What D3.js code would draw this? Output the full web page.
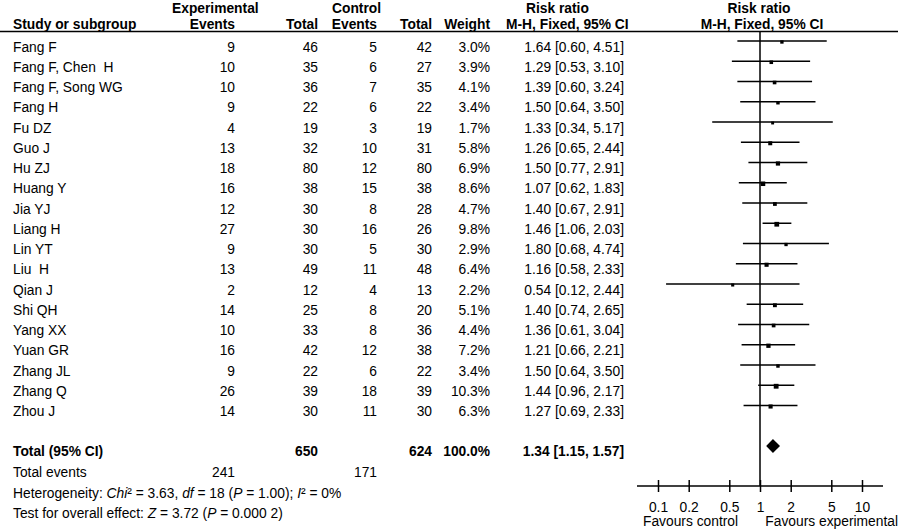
<!DOCTYPE html>
<html>
<head>
<meta charset="utf-8">
<script src="https://cdn.jsdelivr.net/npm/d3@7"></script>
<style>
  html, body { margin: 0; padding: 0; background: #fff; }
  svg { display: block; font-family: Arial, "Liberation Sans", sans-serif; }
  text { white-space: pre; fill: #000; }
</style>
</head>
<body>
<svg id="chart" width="900" height="531"></svg>
<script>
// ---------------- data ----------------
const studies = ["Fang F", "Fang F, Chen  H", "Fang F, Song WG", "Fang H", "Fu DZ", "Guo J", "Hu ZJ",
  "Huang Y", "Jia YJ", "Liang H", "Lin YT", "Liu  H", "Qian J", "Shi QH", "Yang XX", "Yuan GR",
  "Zhang JL", "Zhang Q", "Zhou J"];
const expEvents  = [9, 10, 10, 9, 4, 13, 18, 16, 12, 27, 9, 13, 2, 14, 10, 16, 9, 26, 14];
const expTotal   = [46, 35, 36, 22, 19, 32, 80, 38, 30, 30, 30, 49, 12, 25, 33, 42, 22, 39, 30];
const ctrlEvents = [5, 6, 7, 6, 3, 10, 12, 15, 8, 16, 5, 11, 4, 8, 8, 12, 6, 18, 11];
const ctrlTotal  = [42, 27, 35, 22, 19, 31, 80, 38, 28, 26, 30, 48, 13, 20, 36, 38, 22, 39, 30];
const weights    = [3.0, 3.9, 4.1, 3.4, 1.7, 5.8, 6.9, 8.6, 4.7, 9.8, 2.9, 6.4, 2.2, 5.1, 4.4, 7.2, 3.4, 10.3, 6.3];
const rr         = [1.64, 1.29, 1.39, 1.50, 1.33, 1.26, 1.50, 1.07, 1.40, 1.46, 1.80, 1.16, 0.54, 1.40, 1.36, 1.21, 1.50, 1.44, 1.27];
const ciLow      = [0.60, 0.53, 0.60, 0.64, 0.34, 0.65, 0.77, 0.62, 0.67, 1.06, 0.68, 0.58, 0.12, 0.74, 0.61, 0.66, 0.64, 0.96, 0.69];
const ciHigh     = [4.51, 3.10, 3.24, 3.50, 5.17, 2.44, 2.91, 1.83, 2.91, 2.03, 4.74, 2.33, 2.44, 2.65, 3.04, 2.21, 3.50, 2.17, 2.33];
const totalRow   = { expTotal: 650, ctrlTotal: 624, weight: "100.0%", rr: 1.34, lo: 1.15, hi: 1.57 };
const totalEvents = [241, 171];
const tickValues = [0.1, 0.2, 0.5, 1, 2, 5, 10];
const tickLabels = ["0.1", "0.2", "0.5", "1", "2", "5", "10"];

// ---------------- layout ----------------
const FS = 13.8;
const svg = d3.select("#chart");
const x = d3.scaleLog().domain([0.1, 10]).range([658, 862]);
const rowY = d3.scaleLinear().domain([0, studies.length - 1]).range([41, 405.5]); // CI line y
const textOff = 10.5;
const axisY = 486, headerLineY = 31.5;
const fmt2 = d3.format(".2f");
const colRight = { expE: 235, expT: 318, ctrlE: 377, ctrlT: 432, w: 490, rr: 624 };

function txt(xp, yp, s, opts = {}) {
  const t = svg.append("text").attr("x", xp).attr("y", yp)
    .attr("font-size", opts.size || FS)
    .attr("text-anchor", opts.anchor || "start")
    .attr("font-weight", opts.bold ? "bold" : "normal")
    .text(s);
  return t;
}

// ---------------- header ----------------
txt(172, 13, "Experimental", { bold: true });
txt(332, 13, "Control", { bold: true });
txt(526, 13, "Risk ratio", { bold: true });
txt(759, 13, "Risk ratio", { bold: true, anchor: "middle" });
txt(13, 29, "Study or subgroup", { bold: true });
txt(colRight.expE, 29, "Events", { bold: true, anchor: "end" });
txt(colRight.expT, 29, "Total", { bold: true, anchor: "end" });
txt(colRight.ctrlE, 29, "Events", { bold: true, anchor: "end" });
txt(colRight.ctrlT, 29, "Total", { bold: true, anchor: "end" });
txt(colRight.w, 29, "Weight", { bold: true, anchor: "end" });
txt(506, 29, "M-H, Fixed, 95% CI", { bold: true });
txt(762, 29, "M-H, Fixed, 95% CI", { bold: true, anchor: "middle" });

svg.append("line").attr("x1", 0).attr("x2", 898).attr("y1", headerLineY).attr("y2", headerLineY)
  .attr("stroke", "#000").attr("stroke-width", 1.5);

// ---------------- study rows ----------------
const rows = svg.append("g").selectAll("g").data(studies).join("g");
rows.append("text").attr("x", 13).attr("y", (d, i) => rowY(i) + textOff).attr("font-size", FS).text(d => d);
const cols = [
  [expEvents, colRight.expE, d => d],
  [expTotal, colRight.expT, d => d],
  [ctrlEvents, colRight.ctrlE, d => d],
  [ctrlTotal, colRight.ctrlT, d => d],
  [weights, colRight.w, d => d3.format(".1f")(d) + "%"],
];
cols.forEach(([arr, xr, f]) => {
  svg.append("g").selectAll("text").data(arr).join("text")
    .attr("x", xr).attr("y", (d, i) => rowY(i) + textOff).attr("font-size", FS)
    .attr("text-anchor", "end").text(f);
});
svg.append("g").selectAll("text").data(rr).join("text")
  .attr("x", colRight.rr).attr("y", (d, i) => rowY(i) + textOff).attr("font-size", FS)
  .attr("text-anchor", "end")
  .text((d, i) => `${fmt2(d)} [${fmt2(ciLow[i])}, ${fmt2(ciHigh[i])}]`);

// ---------------- total row ----------------
const totY = 446;
const totBase = totY + 10;
txt(13, totBase, "Total (95% CI)", { bold: true });
txt(colRight.expT, totBase, String(totalRow.expTotal), { bold: true, anchor: "end" });
txt(colRight.ctrlT, totBase, String(totalRow.ctrlTotal), { bold: true, anchor: "end" });
txt(colRight.w, totBase, totalRow.weight, { bold: true, anchor: "end" });
txt(colRight.rr, totBase, `${fmt2(totalRow.rr)} [${fmt2(totalRow.lo)}, ${fmt2(totalRow.hi)}]`, { bold: true, anchor: "end" });

txt(13, 477, "Total events");
txt(colRight.expE, 477, String(totalEvents[0]), { anchor: "end" });
txt(colRight.ctrlE, 477, String(totalEvents[1]), { anchor: "end" });

const het = svg.append("text").attr("x", 13).attr("y", 498).attr("font-size", FS);
[["Heterogeneity: ", 0], ["Chi", 1], ["² = 3.63, ", 0], ["df", 1], [" = 18 (", 0], ["P", 1],
 [" = 1.00); ", 0], ["I", 1], ["² = 0%", 0]].forEach(([s, it]) => {
  het.append("tspan").attr("font-style", it ? "italic" : "normal").text(s);
});
const tst = svg.append("text").attr("x", 13).attr("y", 518).attr("font-size", FS);
[["Test for overall effect: ", 0], ["Z", 1], [" = 3.72 (", 0], ["P", 1], [" = 0.000 2)", 0]]
  .forEach(([s, it]) => {
    tst.append("tspan").attr("font-style", it ? "italic" : "normal").text(s);
  });

// ---------------- forest plot ----------------
const plot = svg.append("g");
plot.append("line").attr("x1", x(1)).attr("x2", x(1)).attr("y1", headerLineY).attr("y2", axisY)
  .attr("stroke", "#000").attr("stroke-width", 1.5);

plot.selectAll("line.ci").data(rr).join("line").attr("class", "ci")
  .attr("x1", (d, i) => x(ciLow[i])).attr("x2", (d, i) => x(ciHigh[i]))
  .attr("y1", (d, i) => rowY(i)).attr("y2", (d, i) => rowY(i))
  .attr("stroke", "#000").attr("stroke-width", 1.5);

const side = w => 1.6 + Math.sqrt(w) * 1.0;
plot.selectAll("rect.pt").data(rr).join("rect").attr("class", "pt")
  .attr("x", (d, i) => x(d) - side(weights[i]) / 2)
  .attr("y", (d, i) => rowY(i) + 1 - side(weights[i]) / 2)
  .attr("width", (d, i) => side(weights[i]))
  .attr("height", (d, i) => side(weights[i]))
  .attr("fill", "#000");

// diamond
const dh = 7;
plot.append("path")
  .attr("d", `M${x(totalRow.lo)},${totY} L${x(totalRow.rr)},${totY - dh} L${x(totalRow.hi)},${totY} L${x(totalRow.rr)},${totY + dh} Z`)
  .attr("fill", "#000");

// axis
plot.append("line").attr("x1", 637).attr("x2", 883).attr("y1", axisY).attr("y2", axisY)
  .attr("stroke", "#000").attr("stroke-width", 1.5);
const axis = d3.axisBottom(x).tickValues(tickValues).tickFormat((d, i) => tickLabels[i])
  .tickSizeInner(6).tickSizeOuter(0).tickPadding(12);
const ax = plot.append("g").attr("transform", `translate(0,${axisY})`).call(axis);
ax.select(".domain").remove();
ax.selectAll(".tick line").attr("y1", -6).attr("y2", 6).attr("stroke", "#000").attr("stroke-width", 1.5);
ax.selectAll(".tick text").attr("font-size", FS).attr("font-family", "Arial, 'Liberation Sans', sans-serif")
  .attr("fill", "#000").attr("dy", null).attr("y", 26);

txt(643, 526, "Favours control");
txt(898, 526, "Favours experimental", { anchor: "end" });
</script>
</body>
</html>
